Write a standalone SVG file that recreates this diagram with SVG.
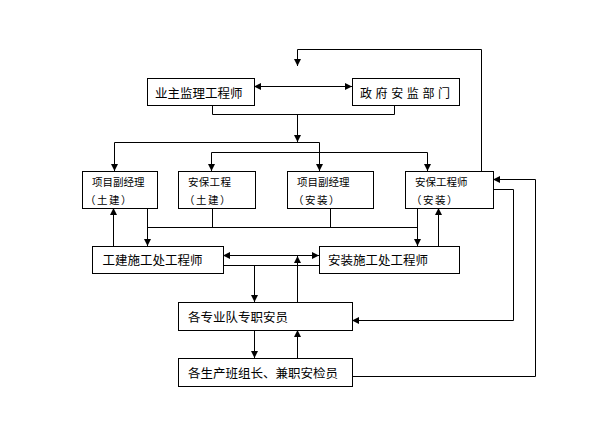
<svg xmlns="http://www.w3.org/2000/svg" width="606" height="443" viewBox="0 0 606 443">
<defs>
<marker id="ah" markerUnits="userSpaceOnUse" markerWidth="7" markerHeight="7" viewBox="0 0 7 7" refX="7" refY="3.5" orient="auto-start-reverse">
<path d="M0,0 L7,3.5 L0,7 z" fill="#000"/>
</marker>
<style>
.box{fill:#fff;stroke:#000;stroke-width:1}
.ln{fill:none;stroke:#000;stroke-width:1}
.a{marker-end:url(#ah)}
.aa{marker-start:url(#ah);marker-end:url(#ah)}
text{font-family:"Noto Sans CJK SC","Noto Sans",sans-serif;fill:#000;dominant-baseline:central}
.big{font-size:12.5px}
.sm{font-size:10.5px}
.par{letter-spacing:1.5px}
</style>
</defs>
<rect width="606" height="443" fill="#fff"/>
<g id="connectors">
<path class="ln a" d="M481.5,171 V49.5 H297.5 V66"/>
<path class="ln aa" d="M254,86.5 H352"/>
<path class="ln" d="M212.5,105 V114.5 H394.5 V105"/>
<path class="ln a" d="M297.5,114.5 V142"/>
<path class="ln a" d="M114.5,142.5 V171"/>
<path class="ln a" d="M319.5,142.5 V171"/>
<path class="ln" d="M114.5,142.5 H319.5"/>
<path class="ln a" d="M211.5,152.5 V171"/>
<path class="ln a" d="M427.5,152.5 V171"/>
<path class="ln" d="M211.5,152.5 H427.5"/>
<path class="ln a" d="M147.5,208 V246"/>
<path class="ln a" d="M113.5,246 V208"/>
<path class="ln" d="M147.5,227.5 H417.5 M212.5,208 V227.5 M330.5,208 V227.5"/>
<path class="ln a" d="M417.5,208 V246"/>
<path class="ln a" d="M438.5,246 V208"/>
<path class="ln aa" d="M223,255.5 H319"/>
<path class="ln" d="M223,265.5 H319"/>
<path class="ln a" d="M254.5,265.5 V302"/>
<path class="ln a" d="M297.5,302 V256"/>
<path class="ln a" d="M254.5,330 V358"/>
<path class="ln a" d="M297.5,358 V330"/>
<path class="ln a" d="M493,189.5 H513.5 V320.5 H352"/>
<path class="ln a" d="M352,376.5 H535.5 V179.5 H493"/>
</g>
<g id="n1"><rect class="box" x="147.5" y="78.5" width="107" height="27"/><text class="big" x="155" y="92">业主监理工程师</text></g>
<g id="n2"><rect class="box" x="352.5" y="78.5" width="107" height="27"/><text class="big" x="360" y="92" style="font-size:12px;letter-spacing:3.6px">政府安监部门</text></g>
<g id="n3"><rect class="box" x="82.5" y="171.5" width="75" height="37"/><text class="sm" x="92" y="181">项目副经理</text><text class="sm par" x="85" y="199">（土建）</text></g>
<g id="n4"><rect class="box" x="178.5" y="171.5" width="77" height="37"/><text class="sm" x="188" y="181" style="letter-spacing:0.3px">安保工程</text><text class="sm par" x="184" y="199">（土建）</text></g>
<g id="n5"><rect class="box" x="287.5" y="171.5" width="86" height="37"/><text class="sm" x="297" y="181">项目副经理</text><text class="sm par" x="293" y="199">（安装）</text></g>
<g id="n6"><rect class="box" x="405.5" y="171.5" width="88" height="37"/><text class="sm" x="415" y="181">安保工程师</text><text class="sm par" x="411" y="199">（安装）</text></g>
<g id="n7"><rect class="box" x="92.5" y="246.5" width="131" height="27"/><text class="big" x="102.5" y="259">工建施工处工程师</text></g>
<g id="n8"><rect class="box" x="319.5" y="246.5" width="140" height="27"/><text class="big" x="328" y="259">安装施工处工程师</text></g>
<g id="n9"><rect class="box" x="178.5" y="302.5" width="174" height="28"/><text class="big" x="188" y="316">各专业队专职安员</text></g>
<g id="n10"><rect class="box" x="178.5" y="358.5" width="174" height="28"/><text class="big" x="188" y="372">各生产班组长、兼职安检员</text></g>
</svg>
